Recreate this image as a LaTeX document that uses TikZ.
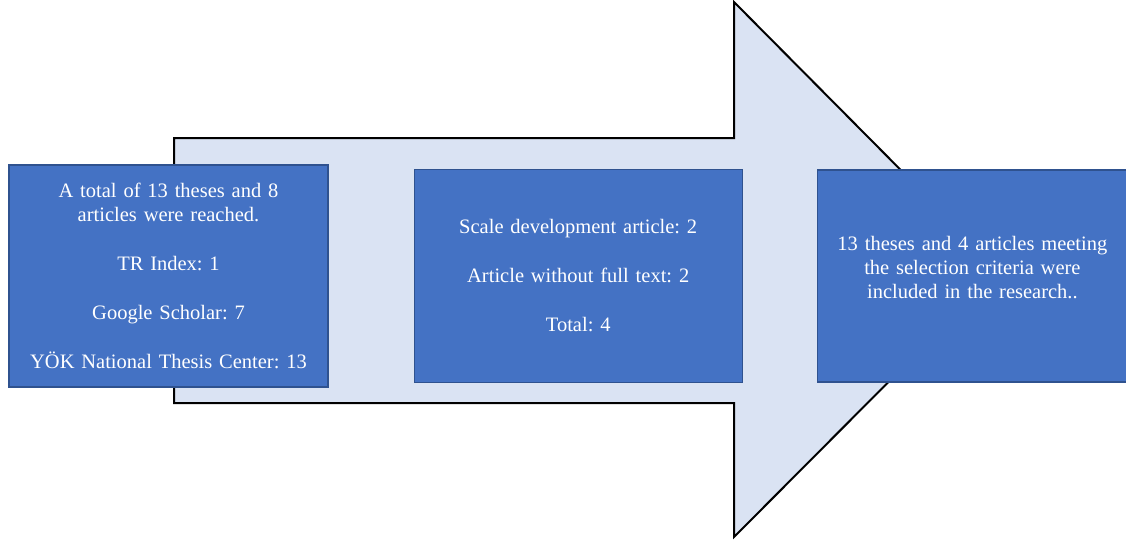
\documentclass[tikz,border=0pt]{standalone}
\usepackage{fontspec}
\setmainfont{LiberationSerif}[Extension=.ttf, UprightFont=*-Regular, BoldFont=*-Bold]
\frenchspacing
\usetikzlibrary{positioning}
\definecolor{boxblue}{HTML}{4472C4}
\definecolor{boxline}{HTML}{2F528F}
\definecolor{arrowfill}{HTML}{DAE3F3}
\tikzset{stagebox/.style={draw=boxline, line width=1.2pt, fill=boxblue, text=white, align=center,
    font=\fontsize{20.5}{24}\selectfont, inner sep=0pt}}
\tikzset{bigarrow/.style={draw=black, line width=2pt, fill=arrowfill}}

\begin{document}
\begin{tikzpicture}[x=1pt,y=-1pt]
  \useasboundingbox (0,0) rectangle (1126,542);
  % the big arrow behind the boxes
  \draw[bigarrow] (174,138) -- (734,138) -- (734,2) -- (1000,270) -- (734,537) -- (734,403) -- (174,403) -- cycle;
  \node[stagebox, minimum width=319pt, minimum height=222pt, text width=305pt] (found) at (168.5,276)
    {A total of 13 theses and 8\\articles were reached.\\[25pt]TR Index: 1\\[25pt]Google Scholar: 7\\[25pt]YÖK National Thesis Center: 13};
  \node[stagebox, minimum width=328pt, minimum height=213pt, text width=310pt, right = 85pt of found] (excl)
    {Scale development article: 2\\[25pt]Article without full text: 2\\[25pt]Total: 4};
  \node[stagebox, minimum width=310pt, minimum height=212pt, text width=295pt, right = 74pt of excl] (incl)
    {13 theses and 4 articles meeting\\the selection criteria were\\included in the research..\\[-6pt]~};
\end{tikzpicture}
\end{document}
